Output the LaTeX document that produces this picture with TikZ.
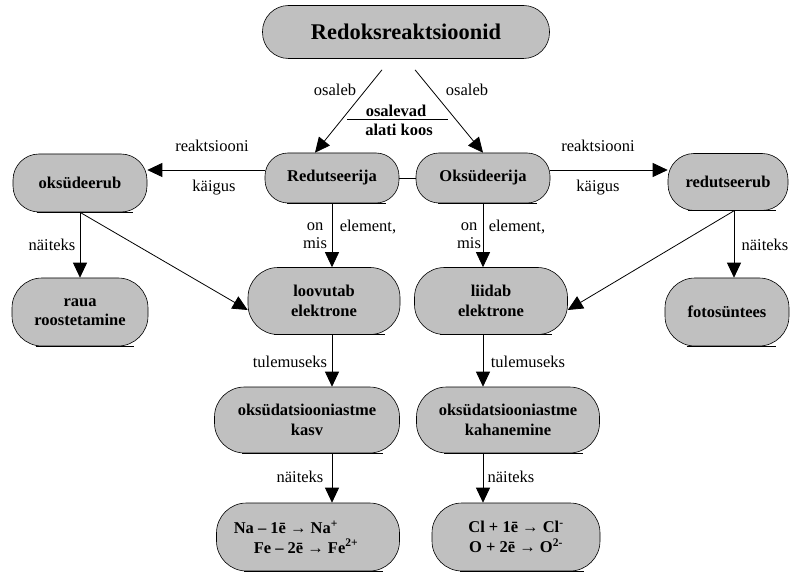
\documentclass[tikz,border=0pt]{standalone}
\usepackage{fontspec}
\setmainfont{Liberation Serif}
\usetikzlibrary{arrows.meta}
\definecolor{boxgray}{RGB}{192,192,192}
\begin{document}
\begin{tikzpicture}[x=1pt,y=-1pt,
  box/.style={draw=black,line width=0.6pt,fill=boxgray,rectangle,inner sep=0pt,align=center,
    font=\fontsize{16.5}{19.5}\selectfont\bfseries},
  lab/.style={inner sep=0pt,align=center,font=\fontsize{16.5}{18}\selectfont},
  blab/.style={inner sep=0pt,align=center,font=\fontsize{16.5}{18}\selectfont\bfseries},
  arr/.style={line width=0.8pt,-{Triangle[length=15pt,width=14pt]}},
  conn/.style={line width=0.8pt},
  botline/.style={line width=1.3pt}]
\useasboundingbox[fill=white] (0,0) rectangle (792,577);

% nodes
\node[box,minimum width=287pt,minimum height=53pt,rounded corners=26pt,
  font=\fontsize{22.4}{26}\selectfont\bfseries] (top) at (406,32) {Redoksreaktsioonid};
\node[box,minimum width=134pt,minimum height=50pt,rounded corners=23pt] (red) at (332,178) {Redutseerija};
\node[box,minimum width=134pt,minimum height=50pt,rounded corners=23pt] (oks) at (483,178) {Oksüdeerija};
\node[box,minimum width=134pt,minimum height=58pt,rounded corners=26pt] (oksub) at (80,183) {oksüdeerub};
\node[box,minimum width=120pt,minimum height=57pt,rounded corners=26pt] (redub) at (728,182) {redutseerub};
\node[box,minimum width=136pt,minimum height=68pt,rounded corners=30pt] (raua) at (80,312) {raua\\roostetamine};
\node[box,minimum width=124pt,minimum height=68pt,rounded corners=30pt] (fotos) at (727,312) {fotosüntees};
\node[box,minimum width=152pt,minimum height=67pt,rounded corners=30pt] (loov) at (324,301) {loovutab\\elektrone};
\node[box,minimum width=153pt,minimum height=67pt,rounded corners=30pt] (liid) at (491,301) {liidab\\elektrone};
\node[box,minimum width=185pt,minimum height=66pt,rounded corners=30pt] (kasv) at (307,420) {oksüdatsiooniastme\\kasv};
\node[box,minimum width=183pt,minimum height=66pt,rounded corners=30pt] (kah) at (508,420) {oksüdatsiooniastme\\kahanemine};
\node[box,minimum width=183pt,minimum height=68pt,rounded corners=30pt,align=left] (na) at (308,537)
  {Na – 1ē → Na\textsuperscript{+}\\\hspace*{20pt}Fe – 2ē → Fe\textsuperscript{2+}\hspace*{24pt}\null};
\node[box,minimum width=168pt,minimum height=68pt,rounded corners=30pt] (cl) at (516,537)
  {Cl + 1ē → Cl\textsuperscript{-}\\O + 2ē → O\textsuperscript{2-}};

% bottom lines of the boxes
\draw[botline] ([xshift=47pt]top.south west) -- ([xshift=-45pt]top.south east);
\foreach \n/\r in {red/22,oks/22,oksub/24,redub/20,raua/24,fotos/22,loov/26,liid/26,kasv/28,kah/28,na/28,cl/28}
  \draw[botline] ([xshift=\r pt]\n.south west) -- ([xshift=-0.6*\r pt]\n.south east);

% connectors
\coordinate (t1) at ([xshift=-24pt,yshift=-11pt]top.south);
\coordinate (t2) at ([xshift=9pt,yshift=-11pt]top.south);
\draw[arr] (t1) -- ([xshift=-17pt]red.north);
\draw[arr] (t2) -- (oks.north);
\draw[conn] (red.east) -- (oks.west);

\coordinate (h1) at ([yshift=8pt]red.west);
\draw[arr] (h1) -- (h1 -| oksub.east);
\coordinate (h2) at ([yshift=8pt]oks.east);
\draw[arr] (h2) -- (h2 -| redub.west);

\draw[arr] (red.south) -- (red.south |- loov.north);
\draw[arr] (oks.south) -- (oks.south |- liid.north);
\coordinate (v1) at (red.south |- loov.south);
\draw[arr] (v1) -- (v1 |- kasv.north);
\coordinate (v2) at (oks.south |- liid.south);
\draw[arr] (v2) -- (v2 |- kah.north);
\coordinate (v3) at (red.south |- kasv.south);
\draw[arr] (v3) -- (v3 |- na.north);
\coordinate (v4) at (oks.south |- kah.south);
\draw[arr] (v4) -- (v4 |- cl.north);

\draw[arr] (oksub.south) -- (oksub.south |- raua.north);
\draw[arr] (oksub.south) -- ([yshift=-9pt]loov.west);
\coordinate (r1) at ([xshift=6pt]redub.south);
\draw[arr] (r1) -- (r1 |- fotos.north);
\draw[arr] (r1) -- ([yshift=-9pt]liid.east);

% labels
\node[lab] (l1) at (335,90) {osaleb};
\node[lab] (l2) at (467,90) {osaleb};
\node[blab] (l3) at (396,111) {osalevad};
\node[blab] (l4) at (399,130) {alati koos};
\coordinate (f1) at (347,119);
\coordinate (f2) at (448,119);
\draw[line width=0.8pt] (f1) -- (f2);
\node[lab] (l5) at (212,146) {reaktsiooni};
\node[lab] (l6) at (214,188) {käigus};
\node[lab] (l7) at (598,146) {reaktsiooni};
\node[lab] (l8) at (598,188) {käigus};
\node[lab] (l9) at (315,236) {on\\mis};
\node[lab] (l10) at (368,227) {element,};
\node[lab] (l11) at (469,236) {on\\mis};
\node[lab] (l12) at (517,227) {element,};
\node[lab] (l13) at (52,245) {näiteks};
\node[lab] (l14) at (765,245) {näiteks};
\node[lab] (l15) at (290,362) {tulemuseks};
\node[lab] (l16) at (528,362) {tulemuseks};
\node[lab] (l17) at (300,477) {näiteks};
\node[lab] (l18) at (511,477) {näiteks};
\end{tikzpicture}
\end{document}
